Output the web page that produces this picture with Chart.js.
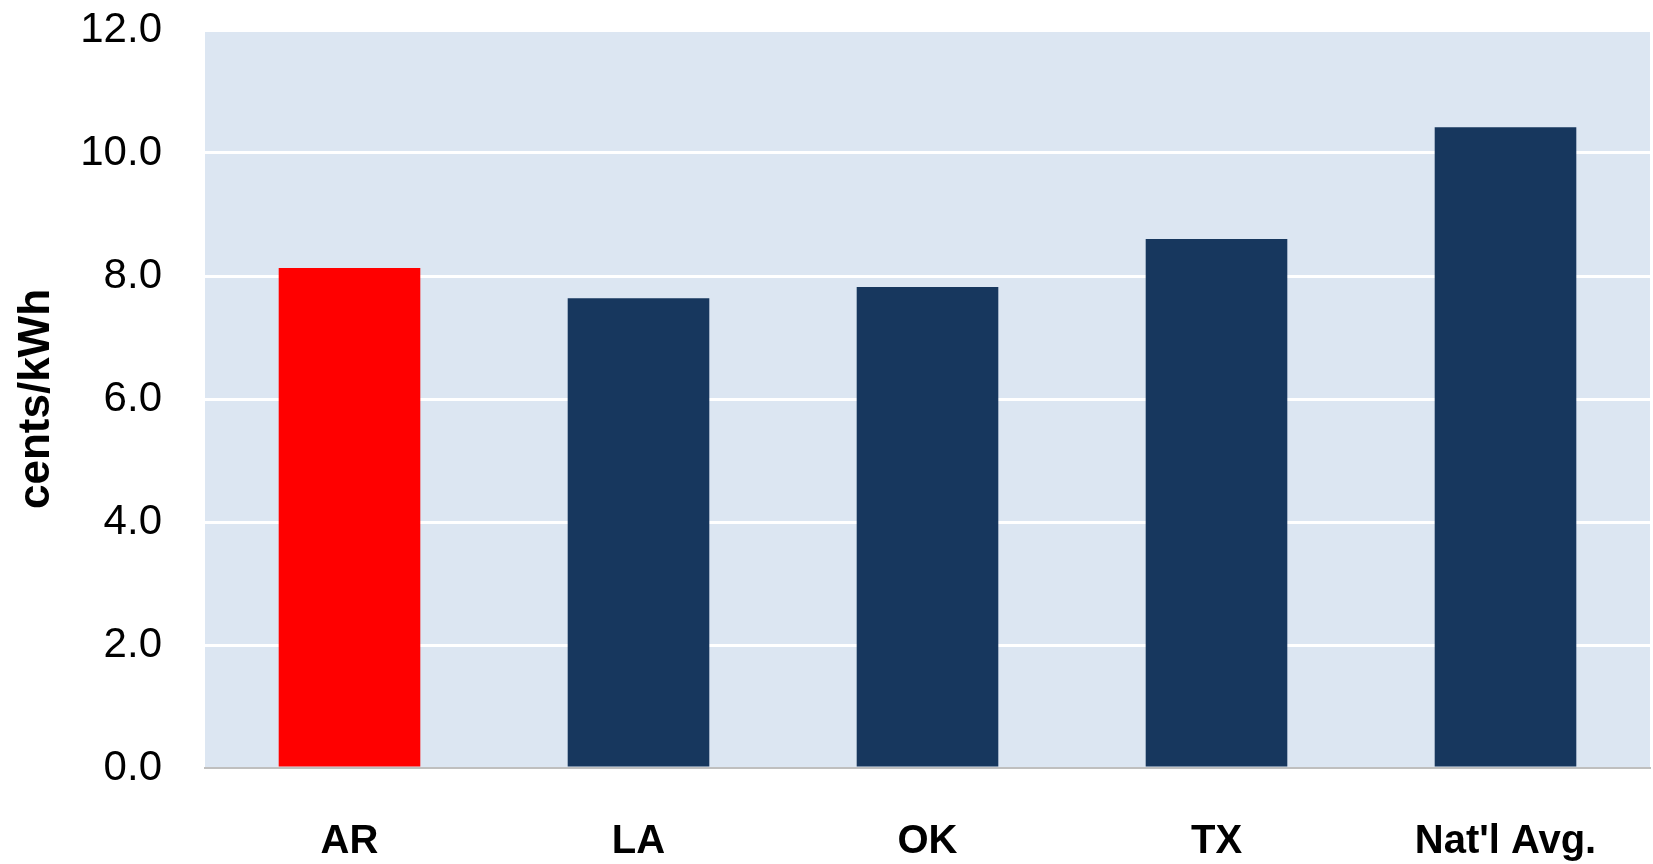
<!DOCTYPE html>
<html lang="en">
<head>
    <meta charset="UTF-8">
    <title>Electricity Price</title>
    <script src="https://cdn.jsdelivr.net/npm/chart.js"></script>
    <style>
        html, body { margin: 0; padding: 0; background: #fff; }
        #wrap { width: 1653px; height: 864px; }
    </style>
</head>
<body>
    <div id="wrap"><canvas id="priceChart"></canvas></div>

    <script>
        const states = ["AR", "LA", "OK", "TX", "Nat'l Avg."];
        const centsPerKwh = [8.13, 7.64, 7.82, 8.6, 10.42];
        const barColors = ["#FF0000", "#17375E", "#17375E", "#17375E", "#17375E"];

        // light blue plot background
        const plotBg = {
            id: "plotBg",
            beforeDraw(chart) {
                const a = chart.chartArea;
                const ctx = chart.ctx;
                ctx.save();
                ctx.fillStyle = "#DCE6F2";
                ctx.fillRect(a.left, a.top, a.right - a.left, a.bottom - a.top);
                ctx.restore();
            }
        };

        new Chart(document.getElementById("priceChart"), {
            type: "bar",
            data: {
                labels: states,
                datasets: [{
                    data: centsPerKwh,
                    backgroundColor: barColors,
                    categoryPercentage: 1,
                    barPercentage: 0.49
                }]
            },
            options: {
                responsive: true,
                maintainAspectRatio: false,
                animation: false,
                layout: { padding: { top: 30, right: 3, left: 0, bottom: 0 } },
                plugins: {
                    legend: { display: false },
                    tooltip: { enabled: false }
                },
                scales: {
                    x: {
                        grid: { display: false, drawTicks: false },
                        border: { color: "#BFBFBF", width: 2 },
                        ticks: {
                            color: "#000",
                            padding: 50,
                            font: { family: "Liberation Sans", size: 40, weight: "bold" }
                        },
                        afterFit(scale) { scale.height = 96; }
                    },
                    y: {
                        min: 0,
                        max: 12,
                        grid: { color: "#FFFFFF", lineWidth: 3, drawTicks: false },
                        border: { display: false },
                        ticks: {
                            stepSize: 2,
                            color: "#000",
                            padding: 43,
                            font: { family: "Liberation Sans", size: 42 },
                            callback: v => v.toFixed(1)
                        },
                        title: {
                            display: true,
                            text: "cents/kWh",
                            color: "#000",
                            padding: { top: 10, bottom: 0 },
                            font: { family: "Liberation Sans", size: 44, weight: "bold" }
                        },
                        afterFit(scale) {
                            scale.width = 205;
                            scale.paddingTop = 0;
                            scale.paddingBottom = 0;
                        }
                    }
                }
            },
            plugins: [plotBg]
        });
    </script>
</body>
</html>
